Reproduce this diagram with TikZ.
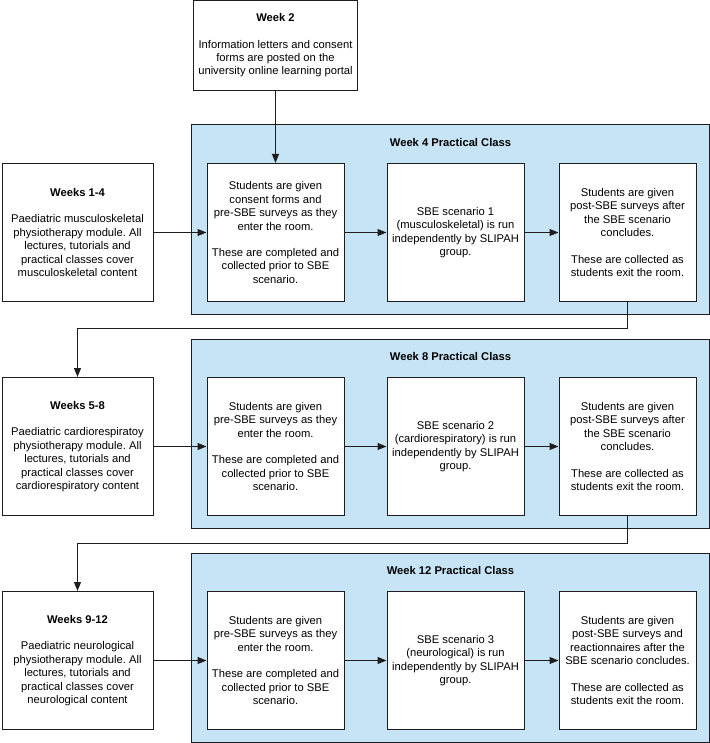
\documentclass[tikz,border=0pt]{standalone}
\usepackage{fontspec}
\setmainfont{Liberation Sans}
\usetikzlibrary{positioning,calc,fit,backgrounds,arrows.meta}
\definecolor{panelblue}{RGB}{198,228,246}
\definecolor{linegray}{RGB}{30,30,30}
\frenchspacing
\begin{document}
\begin{tikzpicture}[font=\fontsize{11.2pt}{13.4pt}\selectfont]

% definitions
\tikzstyle{intro} = [rectangle, minimum width=164pt, minimum height=90pt, align=center, draw=linegray, line width=1pt, fill=white, inner sep=0pt]

\tikzstyle{week} = [rectangle, minimum width=151pt, minimum height=138pt, align=center, draw=linegray, line width=1pt, fill=white, inner sep=0pt]

\tikzstyle{stage} = [rectangle, minimum width=137pt, minimum height=138pt, align=center, draw=linegray, line width=1pt, fill=white, inner sep=0pt]

\tikzstyle{panel} = [rectangle, draw=linegray, line width=1pt, fill=panelblue, inner sep=0pt]

\tikzstyle{heading} = [font=\fontsize{11.2pt}{13.4pt}\selectfont\bfseries, inner sep=0pt]

\tikzstyle{arrow} = [-{Triangle[length=9pt,width=7pt]}, line width=1pt, draw=linegray]

\useasboundingbox (0,0) rectangle (709pt,-743pt);

% the graph
\node (w14) [week] at (77.5pt,-232.5pt) {\textbf{Weeks 1-4}\\[13pt]Paediatric musculoskeletal\\physiotherapy module. All\\lectures, tutorials and\\practical classes cover\\musculoskeletal content};

\node (w58) [week, below=75pt of w14] {\textbf{Weeks 5-8}\\[13pt]Paediatric cardiorespiratoy\\physiotherapy module. All\\lectures, tutorials and\\practical classes cover\\cardiorespiratory content};

\node (w912) [week, below=75pt of w58] {\textbf{Weeks 9-12}\\[13pt]Paediatric neurological\\physiotherapy module. All\\lectures, tutorials and\\practical classes cover\\neurological content};

% week 4
\node (c41) [stage, right=53pt of w14] {Students are given\\consent forms and\\pre-SBE surveys as they\\enter the room.\\[13pt]These are completed and\\collected prior to SBE\\scenario.};

\node (c42) [stage, right=42pt of c41] {SBE scenario 1\\(musculoskeletal) is run\\independently by SLIPAH\\group.};

\node (c43) [stage, right=34pt of c42] {Students are given\\post-SBE surveys after\\the SBE scenario\\concludes.\\[13pt]These are collected as\\students exit the room.};

% week 8
\node (c81) [stage, right=53pt of w58] {Students are given\\pre-SBE surveys as they\\enter the room.\\[13pt]These are completed and\\collected prior to SBE\\scenario.};

\node (c82) [stage, right=42pt of c81] {SBE scenario 2\\(cardiorespiratory) is run\\independently by SLIPAH\\group.};

\node (c83) [stage, right=34pt of c82] {Students are given\\post-SBE surveys after\\the SBE scenario\\concludes.\\[13pt]These are collected as\\students exit the room.};

% week 12
\node (c121) [stage, right=53pt of w912] {Students are given\\pre-SBE surveys as they\\enter the room.\\[13pt]These are completed and\\collected prior to SBE\\scenario.};

\node (c122) [stage, right=42pt of c121] {SBE scenario 3\\(neurological) is run\\independently by SLIPAH\\group.};

\node (c123) [stage, right=34pt of c122] {Students are given\\post-SBE surveys and\\reactionnaires after the\\SBE scenario concludes.\\[13pt]These are collected as\\students exit the room.};

\node (w2) [intro, above=72pt of c41] {\textbf{Week 2}\\[13pt]Information letters and consent\\forms are posted on the\\university online learning portal};

% blue panels
\begin{scope}[on background layer]
\node (p4) [panel, fit={($(c41.north west)+(-15pt,38pt)$) ($(c43.south east)+(13pt,-12pt)$)}] {};
\node (p8) [panel, fit={($(c81.north west)+(-15pt,38pt)$) ($(c83.south east)+(13pt,-12pt)$)}] {};
\node (p12) [panel, fit={($(c121.north west)+(-15pt,38pt)$) ($(c123.south east)+(13pt,-12pt)$)}] {};
\end{scope}

\node (t4) [heading] at ($(p4.north)+(0,-18pt)$) {Week 4 Practical Class};
\node (t8) [heading] at ($(p8.north)+(0,-18pt)$) {Week 8 Practical Class};
\node (t12) [heading] at ($(p12.north)+(0,-18pt)$) {Week 12 Practical Class};

\draw [arrow] (w2) -- (c41);

\draw [arrow] (w14) -- (c41);
\draw [arrow] (c41) -- (c42);
\draw [arrow] (c42) -- (c43);

\draw [arrow] (w58) -- (c81);
\draw [arrow] (c81) -- (c82);
\draw [arrow] (c82) -- (c83);

\draw [arrow] (w912) -- (c121);
\draw [arrow] (c121) -- (c122);
\draw [arrow] (c122) -- (c123);

\draw [arrow] (c43.south) -- ++(0,-26pt) -| (w58.north);
\draw [arrow] (c83.south) -- ++(0,-27pt) -| (w912.north);

\end{tikzpicture}
\end{document}
